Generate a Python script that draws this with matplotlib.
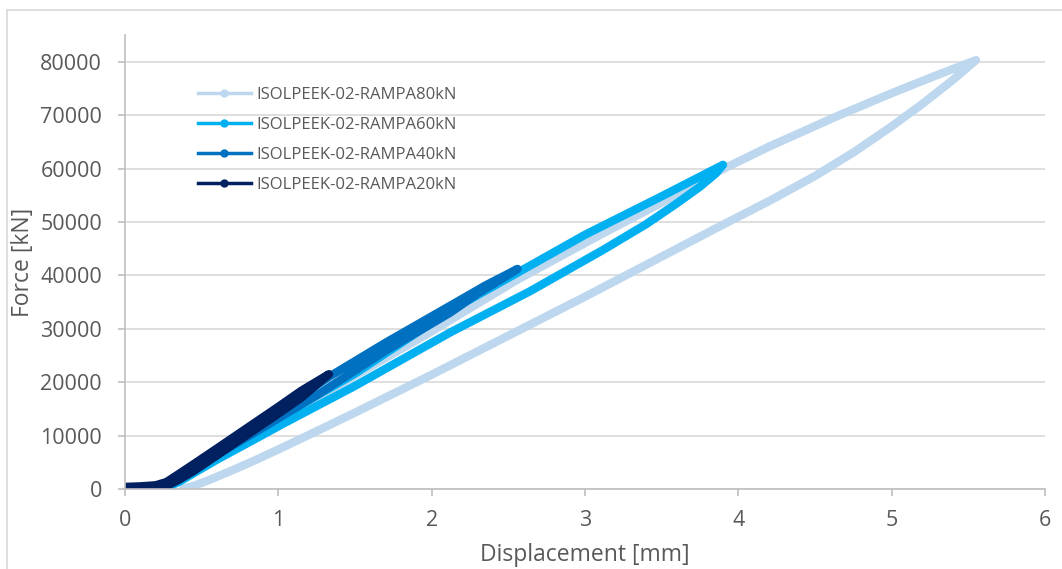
import matplotlib.pyplot as plt
from matplotlib.lines import Line2D

plt.rcParams['font.family'] = ['Open Sans', 'DejaVu Sans']

# Curvas fuerza-desplazamiento (rama de carga y de descarga)
series = ['ISOLPEEK-02-RAMPA80kN', 'ISOLPEEK-02-RAMPA60kN',
          'ISOLPEEK-02-RAMPA40kN', 'ISOLPEEK-02-RAMPA20kN']
colores = ['#BDD7EE', '#00B0F0', '#0070C0', '#002060']

# 80 kN
d80_carga = [0, 0.2, 0.3, 0.4, 0.5, 0.7, 1.0, 1.5, 2.0, 2.23, 2.56, 3.12, 3.5, 3.9, 4.2, 4.66, 5.0, 5.27, 5.55]
f80_carga = [0, 200, 700, 2200, 4000, 7500, 12900, 21200, 29500, 33500, 39200, 47900, 53600, 59900, 64100, 70000, 74100, 77200, 80300]
d80_desc = [5.4, 5.2, 5.0, 4.75, 4.5, 4.2, 3.86, 3.5, 3.0, 2.5, 2.0, 1.5, 1.27, 1.0, 0.835, 0.7, 0.55, 0.45, 0.38]
f80_desc = [76600, 72100, 67900, 63000, 58600, 53900, 48900, 43500, 36000, 28700, 21400, 14300, 11100, 7400, 5200, 3500, 1700, 600, 100]

# 60 kN
d60_carga = [0, 0.2, 0.28, 0.36, 0.5, 0.7, 1.0, 1.5, 2.12, 2.56, 3.0, 3.5, 3.9]
f60_carga = [100, 300, 700, 1900, 4500, 8000, 13300, 21600, 33400, 40500, 47600, 54800, 60700]
d60_desc = [3.85, 3.75, 3.6, 3.4, 3.12, 2.64, 2.12, 1.5, 1.03, 0.8, 0.6, 0.45, 0.35, 0.28, 0.22]
f60_desc = [59000, 56600, 53500, 49600, 44800, 37000, 29300, 19300, 12200, 8600, 5500, 3000, 1300, 400, 150]

# 40 kN
d40_carga = [0, 0.2, 0.27, 0.35, 0.45, 0.6, 0.8, 1.0, 1.33, 1.7, 2.12, 2.35, 2.56]
f40_carga = [100, 400, 800, 2100, 3900, 6800, 10700, 14600, 21000, 27400, 34300, 38100, 41200]
d40_desc = [2.45, 2.3, 2.12, 1.7, 1.27, 0.9, 0.6, 0.45, 0.35, 0.28, 0.2]
f40_desc = [39200, 36600, 33000, 25900, 17900, 11500, 6400, 3700, 1800, 600, 300]

# 20 kN
d20_carga = [0, 0.1, 0.2, 0.27, 0.35, 0.45, 0.6, 0.8, 1.0, 1.15, 1.33]
f20_carga = [400, 500, 700, 1300, 2800, 4700, 7600, 11500, 15400, 18400, 21500]
d20_desc = [1.15, 1.0, 0.8, 0.6, 0.45, 0.35, 0.27, 0.2, 0.1, 0.01]
f20_desc = [17100, 14100, 10200, 6300, 3400, 1700, 600, 300, 150, 50]

desplaz = [d80_carga + d80_desc, d60_carga + d60_desc,
           d40_carga + d40_desc, d20_carga + d20_desc]
fuerza = [f80_carga + f80_desc, f60_carga + f60_desc,
          f40_carga + f40_desc, f20_carga + f20_desc]

gris = '#595959'

fig = plt.figure(figsize=(10.62, 5.69), dpi=100)
ax = fig.add_axes([125 / 1062, 1 - 489 / 569, 920 / 1062, 454 / 569])

for x, y, c in zip(desplaz, fuerza, colores):
    ax.plot(x, y, color=c, lw=6, solid_capstyle='round', solid_joinstyle='round')

ax.set_xlim(0, 6)
ax.set_ylim(0, 85000)
ax.set_yticks(range(0, 80001, 10000))
ax.set_xticks(range(0, 7))
ax.grid(axis='y', color='#d9d9d9', lw=1.2)
ax.set_axisbelow(True)
for s in ['top', 'right']:
    ax.spines[s].set_visible(False)
for s in ['left', 'bottom']:
    ax.spines[s].set_color('#bfbfbf')
    ax.spines[s].set_linewidth(1.2)
ax.tick_params(colors='#bfbfbf', labelcolor=gris, labelsize=15.5, length=5, width=1.2)
ax.tick_params(axis='y', pad=11.5)
ax.tick_params(axis='x', pad=10)
ax.set_xlabel('Displacement [mm]', fontsize=16.5, color=gris)
ax.set_ylabel('Force [kN]', fontsize=16.5, color=gris)
ax.xaxis.set_label_coords(0.5, -0.118)
ax.yaxis.set_label_coords(-0.098, 0.5)

handles = [Line2D([0], [0], color=c, lw=2.5, marker='o', markersize=5) for c in colores]
ax.legend(handles, series, loc='upper left', bbox_to_anchor=(0.079, 0.886), frameon=False,
          fontsize=12, labelcolor=gris, handlelength=3.2, handletextpad=0.3,
          labelspacing=0.85, borderpad=0, borderaxespad=0)

# marco exterior del grafico
fig.add_artist(Line2D([7 / 1062, 7 / 1062], [0, 1 - 10 / 569], color='#d9d9d9', lw=1.2))
fig.add_artist(Line2D([7 / 1062, 1], [1 - 10 / 569, 1 - 10 / 569], color='#d9d9d9', lw=1.2))

fig.savefig('out.png', dpi=100)
